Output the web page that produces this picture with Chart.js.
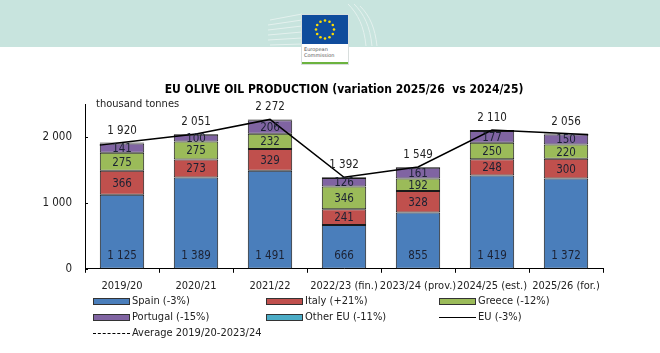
<!DOCTYPE html>
<html>
<head>
<meta charset="utf-8">
<script src="https://cdn.jsdelivr.net/npm/chart.js@4.4.0/dist/chart.umd.min.js"></script>
<style>
  body { margin: 0; width: 660px; height: 353px; background: #fff; position: relative; overflow: hidden;
         font-family: 'DejaVu Sans Condensed', 'DejaVu Sans', sans-serif; }
  #band { position: absolute; left: 0; top: 0; width: 660px; height: 47px; background: #c8e4de; }
  #bldg { position: absolute; left: 262px; top: 0; width: 126px; height: 47px; }
  #logo { position: absolute; left: 301px; top: 14px; width: 46px; height: 49px; background: #fff; border: 1px solid #d8dedd; }
  #flag { position: absolute; left: 0; top: 0; width: 46px; height: 29px; background: #0f4c9c; }
  #logo .txt { position: absolute; left: 2px; top: 31px; font: 5px 'DejaVu Sans', sans-serif; color: #555; line-height: 6px; }
  #logo .green { position: absolute; left: 0; bottom: 0; width: 46px; height: 2px; background: #6cb33f; }
  #wrap { position: absolute; left: 0; top: 68px; width: 660px; height: 239px; }
  .leg { position: absolute; font-size: 11px; color: #222; line-height: 14px; white-space: nowrap; }
  .sw { position: absolute; left: 0; top: 4px; width: 35px; height: 5px; border: 1px solid #333; }
  .ln { position: absolute; left: 0; top: 7px; width: 37px; height: 0; border-top: 1.5px solid #000; }
  .dash { border-top-style: dashed; }
  .leg span { position: absolute; left: 39px; top: 0; }
</style>
</head>
<body>
<div id="band">
  <svg id="bldg" width="126" height="47">
    <g stroke="#e4f1ee" stroke-width="1" fill="none">
      <path d="M8 20 L40 14 M6 25 L40 20 M6 30 L40 26 M6 35 L40 32 M6 40 L40 38 M8 45 L40 44"/>
      <path d="M86 4 C96 14 102 26 104 46 M92 4 C102 14 108 26 110 46 M98 6 C108 16 113 28 115 46"/>
    </g>
  </svg>
</div>
<div id="logo">
  <div id="flag">
    <svg width="46" height="29" id="stars"></svg>
  </div>
  <div class="txt">European<br>Commission</div>
  <div class="green"></div>
</div>
<div id="wrap"><canvas id="olivaChart" width="660" height="239"></canvas></div>
<div id="legend"></div>

<script>
// datos (miles de toneladas)
const categories = ['2019/20', '2020/21', '2021/22', '2022/23 (fin.)', '2023/24 (prov.)', '2024/25 (est.)', '2025/26 (for.)'];
const spain    = [1125, 1389, 1491, 666, 855, 1419, 1372];
const italy    = [366, 273, 329, 241, 328, 248, 300];
const greece   = [275, 275, 232, 346, 192, 250, 220];
const portugal = [141, 100, 206, 126, 161, 177, 150];
const otherEU  = [13, 14, 14, 13, 13, 16, 14];
const euTotal  = [1920, 2051, 2272, 1392, 1549, 2110, 2056];
const average  = [1837, 1837, 1837, 1837, 1837, 1837, 1837];
const yTicks   = [0, 1000, 2000];

const FONT = "'DejaVu Sans Condensed', 'DejaVu Sans', sans-serif";

// estrellas del logo
var svg = document.getElementById('stars');
for (var i = 0; i < 12; i++) {
    var a = i * Math.PI / 6;
    var c = document.createElementNS('http://www.w3.org/2000/svg', 'circle');
    c.setAttribute('cx', 23 + 9 * Math.cos(a));
    c.setAttribute('cy', 14.5 + 9 * Math.sin(a));
    c.setAttribute('r', 1.3);
    c.setAttribute('fill', '#ffdd00');
    svg.appendChild(c);
}

function fmt(v) {
    return String(v).replace(/\B(?=(\d{3})+(?!\d))/g, ' ');
}

// etiquetas dentro de las barras y totales
const labelsPlugin = {
    id: 'labelsPlugin',
    afterDatasetsDraw: function(chart) {
        var ctx = chart.ctx;
        ctx.save();

        // la linea EU llega hasta el borde de la primera y la ultima barra
        chart.data.datasets.forEach(function(ds, di) {
            if (ds.segLabel !== 'top') return;
            var pts = chart.getDatasetMeta(di).data;
            var half = chart.getDatasetMeta(0).data[0].width / 2;
            var n = pts.length;
            var s0 = (pts[1].y - pts[0].y) / (pts[1].x - pts[0].x);
            var s1 = (pts[n - 1].y - pts[n - 2].y) / (pts[n - 1].x - pts[n - 2].x);
            ctx.strokeStyle = ds.borderColor;
            ctx.lineWidth = ds.borderWidth;
            ctx.beginPath();
            ctx.moveTo(pts[0].x - half, pts[0].y - s0 * half);
            ctx.lineTo(pts[0].x, pts[0].y);
            ctx.moveTo(pts[n - 1].x, pts[n - 1].y);
            ctx.lineTo(pts[n - 1].x + half, pts[n - 1].y + s1 * half);
            ctx.stroke();
        });

        ctx.font = '11.5px ' + FONT;
        ctx.textAlign = 'center';
        ctx.textBaseline = 'middle';
        ctx.fillStyle = '#1c2233';
        chart.data.datasets.forEach(function(ds, di) {
            var meta = chart.getDatasetMeta(di);
            if (ds.segLabel === 'base') {
                meta.data.forEach(function(el, i) { ctx.fillText(fmt(ds.data[i]), el.x, el.base - 13); });
            } else if (ds.segLabel === 'mid') {
                meta.data.forEach(function(el, i) { ctx.fillText(fmt(ds.data[i]), el.x, (el.y + el.base) / 2 + 1); });
            } else if (ds.segLabel === 'top') {
                ctx.fillStyle = '#222';
                meta.data.forEach(function(el, i) { ctx.fillText(fmt(ds.data[i]), el.x, el.y - 12); });
            }
        });
        // unidad y marcas del eje y
        var y = chart.scales.y, area = chart.chartArea;
        ctx.textAlign = 'left';
        ctx.fillStyle = '#222';
        ctx.font = '11px ' + FONT;
        ctx.fillText('thousand tonnes', area.left + 11, area.top);
        ctx.strokeStyle = '#000';
        ctx.lineWidth = 1;
        yTicks.forEach(function(v) {
            var py = Math.round(y.getPixelForValue(v)) + 0.5;
            ctx.beginPath();
            ctx.moveTo(area.left, py);
            ctx.lineTo(area.left + 3, py);
            ctx.stroke();
        });
        ctx.restore();
    }
};

function barSet(label, data, color, segLabel) {
    return {
        type: 'bar', label: label, data: data, backgroundColor: color,
        borderColor: '#1a1a1a', borderWidth: 1, borderSkipped: false,
        barPercentage: 0.6, categoryPercentage: 1, stack: 'eu', order: 2, segLabel: segLabel
    };
}

var datasets = [
    barSet('Spain (-3%)', spain, '#4a7ebb', 'base'),
    barSet('Italy (+21%)', italy, '#c0504d', 'mid'),
    barSet('Greece (-12%)', greece, '#9bbb59', 'mid'),
    barSet('Portugal (-15%)', portugal, '#8064a2', 'mid'),
    barSet('Other EU (-11%)', otherEU, '#4bacc6', null),
    { type: 'line', label: 'EU (-3%)', data: euTotal, borderColor: '#000', borderWidth: 1.5,
      pointRadius: 0, fill: false, order: 0, segLabel: 'top' },
    { type: 'line', label: 'Average 2019/20-2023/24', data: average, borderColor: '#000', borderWidth: 1.5,
      borderDash: [6, 4], pointRadius: 0, fill: false, order: 1 }
];

var chartElement = document.getElementById('olivaChart');
var ctx = chartElement.getContext('2d');
var olivaChart = new Chart(ctx, {
    data: { labels: categories, datasets: datasets },
    options: {
        responsive: false,
        animation: false,
        layout: { padding: { left: 0, right: 57, top: 0, bottom: 7 } },
        plugins: {
            legend: { display: false },
            tooltip: { enabled: false },
            title: {
                display: true, fullSize: false,
                text: 'EU OLIVE OIL PRODUCTION (variation 2025/26  vs 2024/25)',
                color: '#000', font: { family: FONT, size: 12, weight: 'bold' },
                padding: { top: 15, bottom: 7 }
            }
        },
        scales: {
            x: {
                stacked: true,
                grid: { display: true, drawOnChartArea: false, tickLength: 4, color: '#000' },
                border: { color: '#000', width: 1 },
                ticks: { color: '#222', font: { family: FONT, size: 11 }, padding: 7, maxRotation: 0, autoSkip: false }
            },
            y: {
                stacked: true, min: 0, max: 2500,
                grid: { display: false },
                border: { display: true, color: '#000', width: 1 },
                afterBuildTicks: function(scale) { scale.ticks = yTicks.map(function(v) { return { value: v }; }); },
                afterFit: function(scale) { scale.width = 85; },
                ticks: { color: '#222', font: { family: FONT, size: 11.5 }, padding: 5,
                         callback: function(v) { return fmt(v); } }
            }
        }
    },
    plugins: [labelsPlugin]
});

// leyenda en html
var legendPos = [
    [0, 93, 301], [1, 266, 301], [2, 439, 301],
    [3, 93, 317], [4, 266, 317], [5, 439, 317],
    [6, 93, 333]
];
var legendBox = document.getElementById('legend');
legendPos.forEach(function(p) {
    var ds = datasets[p[0]];
    var item = document.createElement('div');
    item.className = 'leg';
    item.style.left = p[1] + 'px';
    item.style.top = (p[2] - 7) + 'px';
    var mark = document.createElement('div');
    if (ds.type === 'bar') {
        mark.className = 'sw';
        mark.style.background = ds.backgroundColor;
    } else {
        mark.className = ds.borderDash ? 'ln dash' : 'ln';
    }
    var txt = document.createElement('span');
    txt.textContent = ds.label;
    item.appendChild(mark);
    item.appendChild(txt);
    legendBox.appendChild(item);
});
</script>
</body>
</html>
